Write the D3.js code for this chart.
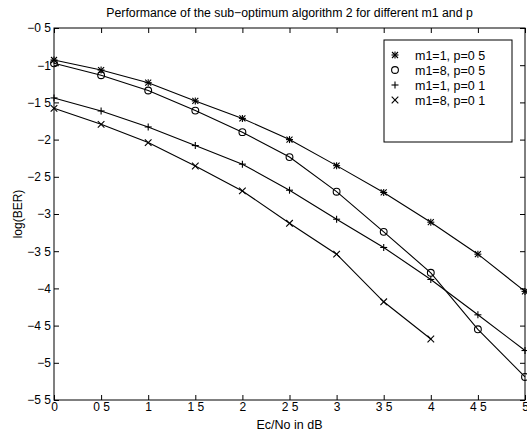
<!DOCTYPE html>
<html>
<head>
<meta charset="utf-8">
<script src="https://cdn.jsdelivr.net/npm/d3@7"></script>
<style>
  html, body { margin: 0; padding: 0; background: #fff; }
  svg { display: block; }
  text { font-family: "Liberation Sans", Arial, Helvetica, sans-serif; fill: #000; }
</style>
</head>
<body>
<svg id="chart" width="527" height="434"></svg>
<script>
// Eb/No sample points (dB)
const ecno = [0, 0.5, 1, 1.5, 2, 2.5, 3, 3.5, 4, 4.5, 5];

// log10(BER) curves for each (m1, p) configuration
const m1_1_p05 = [-0.93, -1.065, -1.235, -1.48, -1.715, -2.0, -2.35, -2.71, -3.11, -3.54, -4.04];
const m1_8_p05 = [-0.975, -1.135, -1.34, -1.61, -1.90, -2.235, -2.70, -3.24, -3.79, -4.55, -5.19];
const m1_1_p01 = [-1.44, -1.615, -1.83, -2.08, -2.33, -2.68, -3.07, -3.45, -3.88, -4.355, -4.835];
const m1_8_p01 = [-1.58, -1.795, -2.04, -2.355, -2.69, -3.125, -3.54, -4.18, -4.68];

const seriesNames = ["m1=1, p=0 5", "m1=8, p=0 5", "m1=1, p=0 1", "m1=8, p=0 1"];
const seriesMarkers = ["star", "circle", "plus", "cross"];

const xTicks = [0, 0.5, 1, 1.5, 2, 2.5, 3, 3.5, 4, 4.5, 5];
const xTickLabels = ["0", "0 5", "1", "1 5", "2", "2 5", "3", "3 5", "4", "4 5", "5"];
const yTicks = [-0.5, -1, -1.5, -2, -2.5, -3, -3.5, -4, -4.5, -5, -5.5];
const yTickLabels = ["\u22120 5", "\u22121", "\u22121 5", "\u22122", "\u22122 5", "\u22123", "\u22123 5", "\u22124", "\u22124 5", "\u22125", "\u22125 5"];

const titleText = "Performance of the sub\u2212optimum algorithm 2 for different m1 and p";
const xLabel = "Ec/No in dB";
const yLabel = "log(BER)";

const allSeries = [m1_1_p05, m1_8_p05, m1_1_p01, m1_8_p01];

const svg = d3.select("#chart");
const plotLeft = 54, plotRight = 525, plotTop = 28, plotBottom = 400;

const x = d3.scaleLinear().domain([0, 5]).range([plotLeft, plotRight]);
const y = d3.scaleLinear().domain([-5.5, -0.5]).range([plotBottom, plotTop]);

const tickLen = 5;

// plot frame
svg.append("rect")
  .attr("x", plotLeft).attr("y", plotTop)
  .attr("width", plotRight - plotLeft).attr("height", plotBottom - plotTop)
  .attr("fill", "none").attr("stroke", "#000").attr("stroke-width", 1);

// axes with inward ticks
const xAxisBottom = d3.axisBottom(x).tickValues(xTicks)
  .tickSizeInner(-tickLen).tickSizeOuter(0).tickPadding(2)
  .tickFormat((d, i) => xTickLabels[i]);
const gxb = svg.append("g").attr("transform", `translate(0,${plotBottom})`).call(xAxisBottom);

const xAxisTop = d3.axisTop(x).tickValues(xTicks)
  .tickSizeInner(-tickLen).tickSizeOuter(0).tickFormat("");
const gxt = svg.append("g").attr("transform", `translate(0,${plotTop})`).call(xAxisTop);

const yAxisLeft = d3.axisLeft(y).tickValues(yTicks)
  .tickSizeInner(-tickLen).tickSizeOuter(0).tickPadding(3)
  .tickFormat((d, i) => yTickLabels[i]);
const gyl = svg.append("g").attr("transform", `translate(${plotLeft},0)`).call(yAxisLeft);

const yAxisRight = d3.axisRight(y).tickValues(yTicks)
  .tickSizeInner(-tickLen).tickSizeOuter(0).tickFormat("");
const gyr = svg.append("g").attr("transform", `translate(${plotRight},0)`).call(yAxisRight);

[gxb, gxt, gyl, gyr].forEach(g => {
  g.select(".domain").remove();
  g.selectAll("line").attr("stroke", "#000");
  g.selectAll("text").attr("font-size", 12).attr("font-family", "Liberation Sans, Arial, sans-serif");
});

// title and axis labels
svg.append("text")
  .attr("x", (plotLeft + plotRight) / 2).attr("y", 17)
  .attr("text-anchor", "middle").attr("font-size", 12.3)
  .text(titleText);

svg.append("text")
  .attr("x", (plotLeft + plotRight) / 2).attr("y", 429)
  .attr("text-anchor", "middle").attr("font-size", 12.5)
  .text(xLabel);

svg.append("text")
  .attr("transform", `translate(22,${(plotTop + plotBottom) / 2}) rotate(-90)`)
  .attr("text-anchor", "middle").attr("font-size", 12)
  .text(yLabel);

// marker drawing
function drawMarker(g, type, cx, cy) {
  const s = 3.5;
  const st = { stroke: "#000", "stroke-width": 1.1, fill: "none" };
  const seg = (x1, y1, x2, y2) => {
    const l = g.append("line").attr("x1", x1).attr("y1", y1).attr("x2", x2).attr("y2", y2);
    Object.entries(st).forEach(([k, v]) => l.attr(k, v));
  };
  if (type === "circle") {
    const c = g.append("circle").attr("cx", cx).attr("cy", cy).attr("r", 3.4);
    Object.entries(st).forEach(([k, v]) => c.attr(k, v));
  }
  if (type === "plus" || type === "star") {
    seg(cx - s, cy, cx + s, cy);
    seg(cx, cy - s, cx, cy + s);
  }
  if (type === "cross" || type === "star") {
    const d = type === "star" ? 3 : 3.3;
    seg(cx - d, cy - d, cx + d, cy + d);
    seg(cx - d, cy + d, cx + d, cy - d);
  }
}

const line = d3.line().x(d => x(d[0])).y(d => y(d[1]));
const plotG = svg.append("g");

allSeries.forEach((vals, i) => {
  const pts = vals.map((v, j) => [ecno[j], v]);
  plotG.append("path").datum(pts)
    .attr("d", line).attr("fill", "none")
    .attr("stroke", "#000").attr("stroke-width", 1.1);
  const mg = plotG.append("g");
  pts.forEach(p => drawMarker(mg, seriesMarkers[i], x(p[0]), y(p[1])));
});

// legend
const lg = svg.append("g");
lg.append("rect")
  .attr("x", 384).attr("y", 40).attr("width", 128).attr("height", 102)
  .attr("fill", "#fff").attr("stroke", "#000").attr("stroke-width", 1);
seriesNames.forEach((name, i) => {
  const yy = 55 + i * 15;
  drawMarker(lg, seriesMarkers[i], 395, yy);
  lg.append("text").attr("x", 415).attr("y", yy + 4.5)
    .attr("font-size", 12.5).text(name);
});
</script>
</body>
</html>
